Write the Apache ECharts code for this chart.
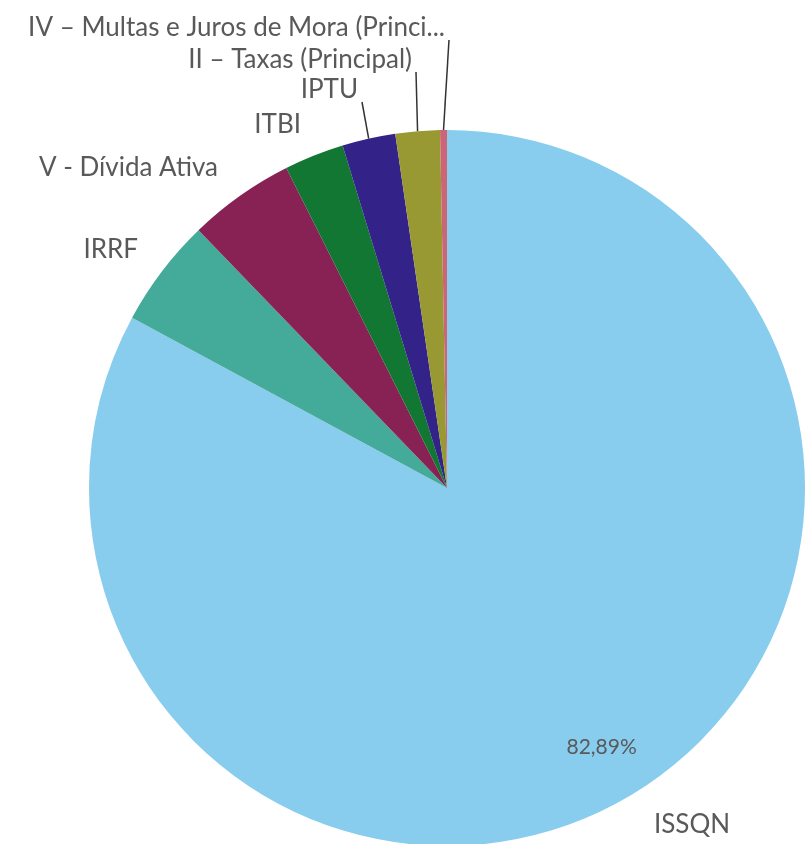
<!DOCTYPE html>
<html>
<head>
<meta charset="utf-8">
<script src="https://cdn.jsdelivr.net/npm/echarts@6/dist/echarts.min.js"></script>
<style>
  html, body { margin: 0; padding: 0; background: #fff; }
  #chart { width: 806px; height: 844px; }
</style>
</head>
<body>
<div id="chart"></div>
<script>
const categories = [
  'ISSQN',
  'IRRF',
  'V - Dívida Ativa',
  'ITBI',
  'IPTU',
  'II – Taxas (Principal)',
  'IV – Multas e Juros de Mora (Principal)'
]
const shares = [82.89, 4.9, 4.8, 2.7, 2.4, 2.0, 0.31]
const colors = ['#88CCEE', '#44AA99', '#882255', '#117733', '#332288', '#999933', '#CC6677']

// where each outside label sits (anchor, alignment), the picture puts them by hand
const labelSpots = [
  { x: 692, y: 825, align: 'center' },
  { x: 138, y: 250, align: 'right' },
  { x: 218, y: 168, align: 'right' },
  { x: 301, y: 125, align: 'right' },
  { x: 358, y: 90, align: 'right', line: true },
  { x: 412, y: 60, align: 'right', line: true },
  { x: 445, y: 28, align: 'right', line: true }
]

const textColor = '#595959'
const font = 'Lato'

const chart = echarts.init(document.getElementById('chart'))

const data = categories.map((name, i) => ({
  name: name,
  value: shares[i],
  itemStyle: { color: colors[i] }
}))

chart.setOption({
  animation: false,
  series: [
    {
      type: 'pie',
      center: [447, 488],
      radius: 358,
      startAngle: 90,
      clockwise: true,
      silent: true,
      data: data,
      itemStyle: { borderWidth: 0 },
      label: {
        show: true,
        position: 'outside',
        color: textColor,
        fontFamily: font,
        fontSize: 26,
        formatter: '{b}',
        width: 429,
        overflow: 'truncate',
        ellipsis: '...'
      },
      labelLine: {
        show: true,
        lineStyle: { color: '#333', width: 1.5 }
      },
      labelLayout: function (p) {
        const s = labelSpots[p.dataIndex]
        const out = {
          x: s.x,
          y: s.y,
          align: s.align,
          verticalAlign: 'middle',
          hideOverlap: false,
          moveOverlap: false
        }
        if (s.line && p.labelLinePoints) {
          const a = p.labelLinePoints[0]
          const endX = s.x + 4
          out.labelLinePoints = [a, [endX, s.y + 12], [endX, s.y + 12]]
        } else {
          out.labelLinePoints = [[0, 0], [0, 0], [0, 0]]
        }
        return out
      }
    },
    {
      type: 'pie',
      center: [447, 488],
      radius: [240, 358],
      startAngle: 90,
      clockwise: true,
      silent: true,
      data: data.map((d) => ({ name: d.name, value: d.value, itemStyle: { color: 'rgba(0,0,0,0)' } })),
      label: {
        show: true,
        position: 'inside',
        color: textColor,
        fontFamily: font,
        fontSize: 21,
        formatter: function (p) {
          return p.dataIndex === 0 ? p.value.toFixed(2).replace('.', ',') + '%' : ''
        }
      },
      labelLine: { show: false }
    }
  ]
})
</script>
</body>
</html>
